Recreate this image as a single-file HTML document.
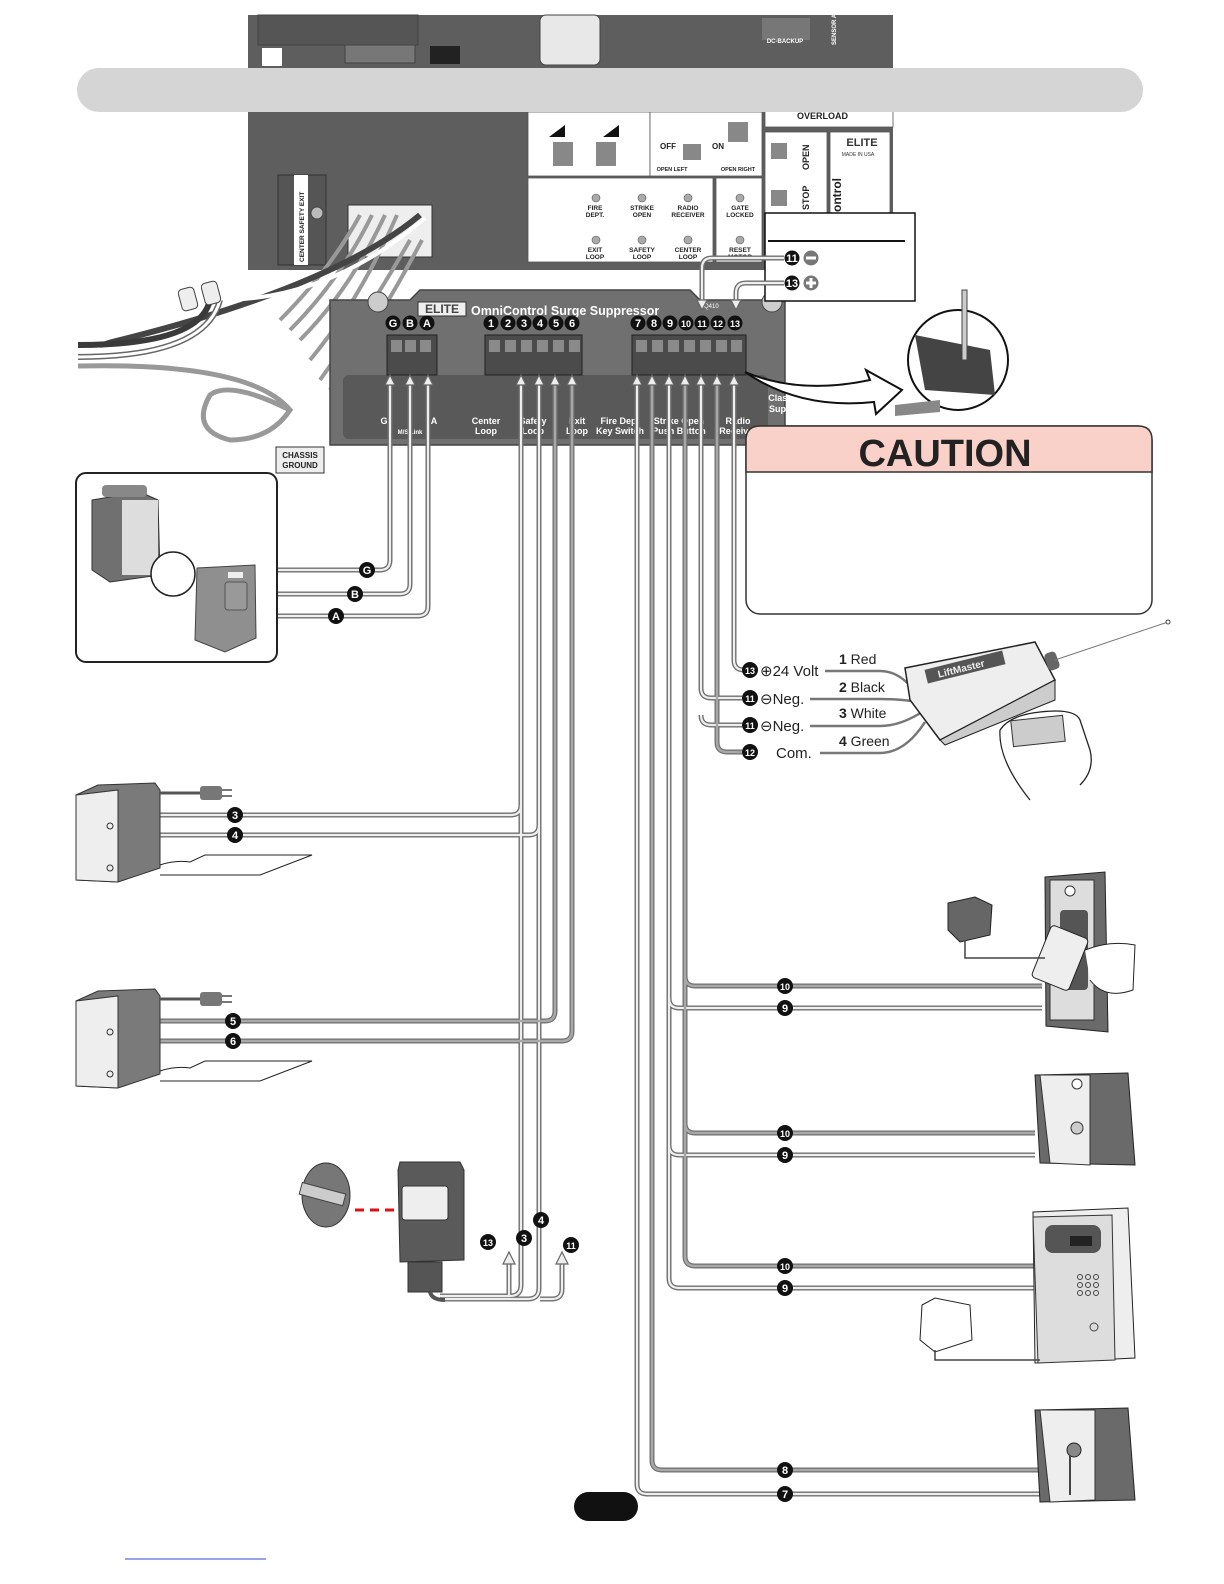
<!DOCTYPE html>
<html><head><meta charset="utf-8"><style>
html,body{margin:0;padding:0;background:#fff;overflow:hidden;width:1224px;height:1584px;}
svg{display:block;font-family:"Liberation Sans",sans-serif;}
.wo{fill:none;stroke:#6e6e6e;stroke-width:5;}
.wi{fill:none;stroke:#eeeeee;stroke-width:2.2;}
.wdi{fill:none;stroke:#a8a8a8;stroke-width:2.5;}
.nb{fill:#111;}
.nt{fill:#fff;font-weight:bold;font-size:11px;text-anchor:middle;}
.lbl{fill:#fff;font-weight:bold;font-size:9px;text-anchor:middle;}
.pl{fill:#fff;stroke:#555;stroke-width:0.8;}
.pt{fill:#222;font-weight:bold;font-size:6.5px;text-anchor:middle;}
.ah{fill:#eee;stroke:#666;stroke-width:1.2;}
</style></head><body>
<svg width="1224" height="1584" viewBox="0 0 1224 1584" xmlns="http://www.w3.org/2000/svg">

<!-- main board -->
<rect x="248" y="15" width="645" height="255" fill="#5e5e5e"/>
<rect x="258" y="15" width="160" height="30" fill="#555" stroke="#444"/>
<rect x="540" y="15" width="60" height="50" rx="6" fill="#e8e8e8" stroke="#444"/>
<rect x="430" y="46" width="30" height="18" fill="#222"/>
<rect x="345" y="45" width="70" height="18" fill="#777" stroke="#444"/>
<rect x="262" y="48" width="20" height="18" fill="#fff"/>
<rect x="762" y="18" width="48" height="22" fill="#777"/>
<text x="785" y="43" font-size="6" font-weight="bold" fill="#fff" text-anchor="middle">DC-BACKUP</text>
<text x="836" y="45" font-size="6" font-weight="bold" fill="#fff" transform="rotate(-90 836 45)">SENSOR ALA</text>
<rect x="528" y="112" width="122" height="64" class="pl"/>
<rect x="650" y="112" width="112" height="64" class="pl"/>
<rect x="528" y="178" width="185" height="84" class="pl"/>
<rect x="716" y="178" width="46" height="84" class="pl"/>
<rect x="765" y="100" width="128" height="27" class="pl"/>
<text x="797" y="119" font-size="9" font-weight="bold" fill="#222">OVERLOAD</text>
<rect x="765" y="132" width="62" height="82" class="pl"/>
<rect x="830" y="132" width="60" height="82" class="pl"/>
<text x="862" y="146" font-size="11" font-weight="bold" fill="#333" text-anchor="middle">ELITE</text>
<text x="858" y="156" font-size="5" fill="#333" text-anchor="middle">MADE IN USA</text>
<text x="809" y="170" font-size="9" font-weight="bold" fill="#222" transform="rotate(-90 809 170)">OPEN</text>
<text x="809" y="210" font-size="9" font-weight="bold" fill="#222" transform="rotate(-90 809 210)">STOP</text>
<text x="841" y="212" font-size="12" font-weight="bold" fill="#222" transform="rotate(-90 841 212)">ontrol</text>
<rect x="771" y="143" width="16" height="16" fill="#888"/><rect x="771" y="190" width="16" height="16" fill="#888"/>
<text x="668" y="149" font-size="8" font-weight="bold" fill="#222" text-anchor="middle">OFF</text>
<text x="718" y="149" font-size="8" font-weight="bold" fill="#222" text-anchor="middle">ON</text>
<rect x="683" y="144" width="18" height="16" fill="#888"/>
<rect x="728" y="122" width="20" height="20" fill="#888"/>
<text x="672" y="171" font-size="5.5" font-weight="bold" fill="#222" text-anchor="middle">OPEN LEFT</text>
<text x="738" y="171" font-size="5.5" font-weight="bold" fill="#222" text-anchor="middle">OPEN RIGHT</text>
<rect x="553" y="142" width="20" height="24" fill="#888"/><rect x="596" y="142" width="20" height="24" fill="#888"/>
<path d="M549,137 L565,125 L565,137Z" fill="#111"/><path d="M603,137 L619,125 L619,137Z" fill="#111"/>
<g class="pt">
<text x="595" y="210">FIRE</text><text x="595" y="217">DEPT.</text>
<text x="642" y="210">STRIKE</text><text x="642" y="217">OPEN</text>
<text x="688" y="210">RADIO</text><text x="688" y="217">RECEIVER</text>
<text x="740" y="210">GATE</text><text x="740" y="217">LOCKED</text>
<text x="595" y="252">EXIT</text><text x="595" y="259">LOOP</text>
<text x="642" y="252">SAFETY</text><text x="642" y="259">LOOP</text>
<text x="688" y="252">CENTER</text><text x="688" y="259">LOOP</text>
<text x="740" y="252">RESET</text><text x="740" y="259">MOTOR</text>
</g>
<g fill="#aaa" stroke="#555" stroke-width="0.6">
<circle cx="596" cy="198" r="4"/><circle cx="642" cy="198" r="4"/><circle cx="688" cy="198" r="4"/><circle cx="740" cy="198" r="4"/>
<circle cx="596" cy="240" r="4"/><circle cx="642" cy="240" r="4"/><circle cx="688" cy="240" r="4"/><circle cx="740" cy="240" r="4"/>
</g>
<rect x="278" y="175" width="48" height="90" fill="#555" stroke="#333"/>
<rect x="294" y="175" width="14" height="90" fill="#fff"/>
<text x="304" y="262" font-size="6.5" font-weight="bold" fill="#222" transform="rotate(-90 304 262)">CENTER  SAFETY  EXIT</text>
<circle cx="317" cy="213" r="6" fill="#bbb" stroke="#444"/>
<rect x="348" y="205" width="84" height="52" fill="#eee" stroke="#333"/>
<g stroke="#999" stroke-width="4" fill="none">
<path d="M360,215 Q330,270 280,320"/><path d="M372,215 Q340,280 290,330"/><path d="M385,215 Q350,290 300,340"/><path d="M397,215 Q360,300 310,360"/><path d="M410,240 Q370,310 320,380"/><path d="M422,240 Q380,320 330,390"/>
</g>
<path d="M420,215 Q330,290 100,345" stroke="#444" stroke-width="6" fill="none"/>
<path d="M425,218 Q330,300 220,300 Q150,320 78,350" stroke="#fff" stroke-width="4" fill="none"/>
<path d="M78,345 Q200,345 210,300" stroke="#3a3a3a" stroke-width="6" fill="none"/>
<path d="M78,357 Q205,357 220,300" stroke="#666" stroke-width="6" fill="none"/><path d="M78,357 Q205,357 220,300" stroke="#fff" stroke-width="3" fill="none"/>
<path d="M78,366 Q250,362 290,410 Q270,440 230,440 Q190,430 210,395 Q230,380 290,410" stroke="#999" stroke-width="5" fill="none"/>
<rect x="180" y="288" width="16" height="22" rx="4" fill="#eee" stroke="#444" transform="rotate(-15 188 299)"/>
<rect x="203" y="282" width="16" height="22" rx="4" fill="#eee" stroke="#444" transform="rotate(-15 211 293)"/>
<rect x="276" y="447" width="48" height="26" fill="#eee" stroke="#333"/>
<text x="300" y="458" font-size="8" font-weight="bold" fill="#222" text-anchor="middle">CHASSIS</text>
<text x="300" y="468" font-size="8" font-weight="bold" fill="#222" text-anchor="middle">GROUND</text>

<rect x="77" y="68" width="1066" height="44" rx="22" fill="#d5d5d5"/>

<!-- surge suppressor -->
<path d="M330,300 L330,445 L785,445 L785,300 L700,300 L690,290 L420,290 L410,300Z" fill="#707070" stroke="#444" stroke-width="1.5"/>
<circle cx="378" cy="302" r="10" fill="#ccc" stroke="#444"/><circle cx="772" cy="302" r="10" fill="#ccc" stroke="#444"/>
<rect x="343" y="375" width="425" height="64" rx="6" fill="#595959"/>
<rect x="418" y="302" width="48" height="14" fill="#eee" stroke="#333"/>
<text x="442" y="313" font-size="12" font-weight="bold" fill="#444" text-anchor="middle">ELITE</text>
<text x="471" y="315" font-size="12.5" font-weight="bold" fill="#fff">OmniControl Surge Suppressor</text>
<text x="704" y="308" font-size="6" fill="#fff">Q410</text>
<rect x="387" y="335" width="50" height="40" fill="#4b4b4b" stroke="#222"/>
<rect x="485" y="335" width="97" height="40" fill="#4b4b4b" stroke="#222"/>
<rect x="632" y="335" width="114" height="40" fill="#4b4b4b" stroke="#222"/>
<g fill="#8a8a8a">
<rect x="391" y="340" width="11" height="12"/><rect x="405" y="340" width="11" height="12"/><rect x="420" y="340" width="11" height="12"/>
<rect x="489" y="340" width="11" height="12"/><rect x="505" y="340" width="11" height="12"/><rect x="521" y="340" width="11" height="12"/><rect x="537" y="340" width="11" height="12"/><rect x="553" y="340" width="11" height="12"/><rect x="569" y="340" width="11" height="12"/>
<rect x="636" y="340" width="11" height="12"/><rect x="652" y="340" width="11" height="12"/><rect x="668" y="340" width="11" height="12"/><rect x="684" y="340" width="11" height="12"/><rect x="700" y="340" width="11" height="12"/><rect x="716" y="340" width="11" height="12"/><rect x="731" y="340" width="11" height="12"/>
</g>
<g class="nb"><circle cx="393" cy="323" r="7.5"/><circle cx="410" cy="323" r="7.5"/><circle cx="427" cy="323" r="7.5"/>
<circle cx="491" cy="323" r="7.5"/><circle cx="508" cy="323" r="7.5"/><circle cx="524" cy="323" r="7.5"/><circle cx="540" cy="323" r="7.5"/><circle cx="556" cy="323" r="7.5"/><circle cx="572" cy="323" r="7.5"/>
<circle cx="638" cy="323" r="7.5"/><circle cx="654" cy="323" r="7.5"/><circle cx="670" cy="323" r="7.5"/><circle cx="686" cy="323" r="7.5"/><circle cx="702" cy="323" r="7.5"/><circle cx="718" cy="323" r="7.5"/><circle cx="735" cy="323" r="7.5"/></g>
<g class="nt" font-size="11">
<text x="393" y="327">G</text><text x="410" y="327">B</text><text x="427" y="327">A</text>
<text x="491" y="327">1</text><text x="508" y="327">2</text><text x="524" y="327">3</text><text x="540" y="327">4</text><text x="556" y="327">5</text><text x="572" y="327">6</text>
<text x="638" y="327">7</text><text x="654" y="327">8</text><text x="670" y="327">9</text><text x="686" y="327" font-size="9">10</text><text x="702" y="327" font-size="9">11</text><text x="718" y="327" font-size="9">12</text><text x="735" y="327" font-size="9">13</text>
</g>
<g class="lbl">
<text x="384" y="424">G</text><text x="434" y="424">A</text><text x="410" y="434" font-size="6">M/S Link</text>
<text x="486" y="424">Center</text><text x="486" y="434">Loop</text>
<text x="533" y="424">Safety</text><text x="533" y="434">Loop</text>
<text x="577" y="424">Exit</text><text x="577" y="434">Loop</text>
<text x="620" y="424">Fire Dept</text><text x="620" y="434">Key Switch</text>
<text x="679" y="424">Strike Open</text><text x="679" y="434">Push Button</text>
<text x="738" y="424">Radio</text><text x="738" y="434">Receiver</text>
<text x="784" y="401">Class 2</text><text x="784" y="412">Supply</text>
</g>
<path d="M745,372 Q800,395 870,380 L866,370 L902,390 L876,414 L874,402 Q800,410 745,372Z" fill="#fff" stroke="#111" stroke-width="2"/>
<circle cx="958" cy="360" r="50" fill="#fff" stroke="#111" stroke-width="2"/>
<path d="M915,335 L990,350 L995,395 L925,390Z" fill="#444"/>
<path d="M895,405 L940,400 L940,412 L895,416Z" fill="#888"/>
<rect x="962" y="290" width="5" height="70" fill="#ccc" stroke="#444"/>

<!-- terminal insert -->
<rect x="765" y="213" width="150" height="88" fill="#fff" stroke="#111" stroke-width="1.5"/>
<line x1="768" y1="241" x2="905" y2="241" stroke="#111" stroke-width="2"/>
<circle cx="792" cy="258" r="7.5" class="nb"/><text x="792" y="262" class="nt" font-size="9">11</text>
<circle cx="811" cy="258" r="7.5" fill="#777"/><rect x="806" y="256.5" width="10" height="3" fill="#fff"/>
<circle cx="792" cy="283" r="7.5" class="nb"/><text x="792" y="287" class="nt" font-size="9">13</text>
<circle cx="811" cy="283" r="7.5" fill="#777"/><rect x="806" y="281.5" width="10" height="3" fill="#fff"/><rect x="809.5" y="278" width="3" height="10" fill="#fff"/>
<path d="M784,258 H712 Q702,258 702,268 V300" class="wo"/><path d="M784,258 H712 Q702,258 702,268 V300" class="wi"/>
<path d="M784,283 H746 Q736,283 736,293 V300" class="wo"/><path d="M784,283 H746 Q736,283 736,293 V300" class="wi"/>
<path d="M697,300 L707,300 L702,310Z" class="ah"/><path d="M731,300 L741,300 L736,310Z" class="ah"/>

<!-- CAUTION -->
<rect x="746" y="426" width="406" height="188" rx="14" fill="#fff" stroke="#333" stroke-width="1.5"/>
<path d="M760,426 H1138 Q1152,426 1152,440 V472 H746 V440 Q746,426 760,426Z" fill="#f9d1c9" stroke="#333" stroke-width="1.5"/>
<text x="945" y="466" font-size="38" font-weight="bold" fill="#222" text-anchor="middle">CAUTION</text>

<!-- WIRES -->
<g class="wo">
<path d="M390,378 V560 Q390,570 380,570 H270"/>
<path d="M410,378 V584 Q410,594 400,594 H270"/>
<path d="M428,378 V606 Q428,616 418,616 H270"/>
<path d="M521,378 V1285 Q521,1296 510,1296 H440"/>
<path d="M521,805 Q521,815 511,815 H160"/>
<path d="M539,378 V1288 Q539,1299 528,1299 H440"/>
<path d="M539,825 Q539,835 529,835 H160"/>
<path d="M509,1296 V1262"/>
<path d="M540,1299 H552 Q562,1299 562,1289 V1262"/>
<path d="M555,378 V1011 Q555,1021 545,1021 H160"/>
<path d="M572,378 V1031 Q572,1041 562,1041 H160"/>
<path d="M637,378 V1484 Q637,1494 647,1494 H1040"/>
<path d="M652,378 V1460 Q652,1470 662,1470 H1040"/>
<path d="M669,378 V1278 Q669,1288 679,1288 H1035"/>
<path d="M669,998 Q669,1008 679,1008 H1042"/>
<path d="M669,1145 Q669,1155 679,1155 H1035"/>
<path d="M685,378 V1256 Q685,1266 695,1266 H1035"/>
<path d="M685,976 Q685,986 695,986 H1042"/>
<path d="M685,1123 Q685,1133 695,1133 H1035"/>
<path d="M701,378 V688 Q701,698 711,698 H742"/>
<path d="M701,715 Q701,725 711,725 H742"/>
<path d="M717,378 V742 Q717,752 727,752 H742"/>
<path d="M734,378 V660 Q734,670 744,670"/>
</g>
<g class="wi">
<path d="M390,378 V560 Q390,570 380,570 H270"/>
<path d="M410,378 V584 Q410,594 400,594 H270"/>
<path d="M428,378 V606 Q428,616 418,616 H270"/>
<path d="M521,378 V1285 Q521,1296 510,1296 H440"/>
<path d="M521,805 Q521,815 511,815 H160"/>
<path d="M539,378 V1288 Q539,1299 528,1299 H440"/>
<path d="M539,825 Q539,835 529,835 H160"/>
<path d="M509,1296 V1262"/>
<path d="M540,1299 H552 Q562,1299 562,1289 V1262"/>
<path d="M637,378 V1484 Q637,1494 647,1494 H1040"/>
<path d="M669,378 V1278 Q669,1288 679,1288 H1035"/>
<path d="M669,998 Q669,1008 679,1008 H1042"/>
<path d="M669,1145 Q669,1155 679,1155 H1035"/>
<path d="M701,378 V688 Q701,698 711,698 H742"/>
<path d="M701,715 Q701,725 711,725 H742"/>
<path d="M734,378 V660 Q734,670 744,670"/>
</g>
<g class="wdi">
<path d="M555,378 V1011 Q555,1021 545,1021 H160"/>
<path d="M572,378 V1031 Q572,1041 562,1041 H160"/>
<path d="M652,378 V1460 Q652,1470 662,1470 H1040"/>
<path d="M685,378 V1256 Q685,1266 695,1266 H1035"/>
<path d="M685,976 Q685,986 695,986 H1042"/>
<path d="M685,1123 Q685,1133 695,1133 H1035"/>
<path d="M717,378 V742 Q717,752 727,752 H742"/>
</g>
<path d="M503,1264 L515,1264 L509,1252Z" class="ah"/>
<path d="M556,1264 L568,1264 L562,1252Z" class="ah"/>
<g class="ah">
<path d="M385,385 L395,385 L390,375Z"/><path d="M405,385 L415,385 L410,375Z"/><path d="M423,385 L433,385 L428,375Z"/>
<path d="M516,385 L526,385 L521,375Z"/><path d="M534,385 L544,385 L539,375Z"/><path d="M550,385 L560,385 L555,375Z"/><path d="M567,385 L577,385 L572,375Z"/>
<path d="M632,385 L642,385 L637,375Z"/><path d="M647,385 L657,385 L652,375Z"/><path d="M664,385 L674,385 L669,375Z"/><path d="M680,385 L690,385 L685,375Z"/><path d="M696,385 L706,385 L701,375Z"/><path d="M712,385 L722,385 L717,375Z"/><path d="M729,385 L739,385 L734,375Z"/>
</g>

<!-- wire badges -->
<g class="nb">
<circle cx="367" cy="570" r="8"/><circle cx="355" cy="594" r="8"/><circle cx="336" cy="616" r="8"/>
<circle cx="235" cy="815" r="8"/><circle cx="235" cy="835" r="8"/><circle cx="233" cy="1021" r="8"/><circle cx="233" cy="1041" r="8"/>
<circle cx="785" cy="986" r="8"/><circle cx="785" cy="1008" r="8"/><circle cx="785" cy="1133" r="8"/><circle cx="785" cy="1155" r="8"/>
<circle cx="785" cy="1266" r="8"/><circle cx="785" cy="1288" r="8"/><circle cx="785" cy="1470" r="8"/><circle cx="785" cy="1494" r="8"/>
<circle cx="488" cy="1242" r="8"/><circle cx="524" cy="1238" r="8"/><circle cx="541" cy="1220" r="8"/><circle cx="571" cy="1245" r="8"/>
<circle cx="750" cy="670" r="8"/><circle cx="750" cy="698" r="8"/><circle cx="750" cy="725" r="8"/><circle cx="750" cy="752" r="8"/>
</g>
<g class="nt" font-size="11">
<text x="367" y="574">G</text><text x="355" y="598">B</text><text x="336" y="620">A</text>
<text x="235" y="819">3</text><text x="235" y="839">4</text><text x="233" y="1025">5</text><text x="233" y="1045">6</text>
<text x="785" y="990" font-size="9">10</text><text x="785" y="1012">9</text><text x="785" y="1137" font-size="9">10</text><text x="785" y="1159">9</text>
<text x="785" y="1270" font-size="9">10</text><text x="785" y="1292">9</text><text x="785" y="1474">8</text><text x="785" y="1498">7</text>
<text x="488" y="1246" font-size="9">13</text><text x="524" y="1242">3</text><text x="541" y="1224">4</text><text x="571" y="1249" font-size="9">11</text>
<text x="750" y="674" font-size="9">13</text><text x="750" y="702" font-size="9">11</text><text x="750" y="729" font-size="9">11</text><text x="750" y="756" font-size="9">12</text>
</g>

<!-- LiftMaster -->
<g font-size="15" fill="#222">
<text x="760" y="676">⊕24 Volt</text>
<text x="760" y="704">⊖Neg.</text>
<text x="760" y="731">⊖Neg.</text>
<text x="776" y="758">Com.</text>
<text x="839" y="664" font-size="14"><tspan font-weight="bold">1</tspan> Red</text>
<text x="839" y="692" font-size="14"><tspan font-weight="bold">2</tspan> Black</text>
<text x="839" y="718" font-size="14"><tspan font-weight="bold">3</tspan> White</text>
<text x="839" y="746" font-size="14"><tspan font-weight="bold">4</tspan> Green</text>
</g>
<g fill="none" stroke="#777" stroke-width="2.5">
<path d="M825,671 H880 Q900,671 915,692"/>
<path d="M810,699 H880 Q900,699 918,702"/>
<path d="M810,726 H880 Q900,726 922,712"/>
<path d="M820,753 H880 Q905,753 925,722"/>
</g>
<path d="M905,668 L1035,642 L1055,680 L940,740 L910,700Z" fill="#eee" stroke="#222" stroke-width="1.5"/>
<path d="M940,740 L1055,680 L1055,700 L945,745Z" fill="#ccc" stroke="#222"/>
<rect x="925" y="660" width="80" height="14" fill="#555" transform="rotate(-14 965 667)"/>
<text x="962" y="672" font-size="10" font-weight="bold" fill="#eee" text-anchor="middle" transform="rotate(-14 962 672)">LiftMaster</text>
<rect x="1046" y="652" width="12" height="18" rx="4" fill="#666" transform="rotate(-20 1052 661)"/>
<line x1="1055" y1="660" x2="1168" y2="622" stroke="#777" stroke-width="1"/>
<circle cx="1168" cy="622" r="2" fill="#fff" stroke="#444"/>
<path d="M1000,730 Q1010,715 1040,712 Q1075,708 1080,720 L1090,750 Q1095,770 1080,785 M1000,730 Q998,760 1030,800" fill="none" stroke="#222" stroke-width="1.3"/>
<rect x="1012" y="718" width="52" height="26" fill="#ccc" stroke="#333" transform="rotate(-6 1038 731)"/>

<!-- Master/Slave box -->
<rect x="76" y="473" width="201" height="189" rx="10" fill="#fff" stroke="#222" stroke-width="2"/>
<path d="M92,500 L140,492 L158,500 L160,575 L110,582 L92,570Z" fill="#707070" stroke="#333"/>
<rect x="122" y="500" width="36" height="75" fill="#ddd"/>
<rect x="102" y="485" width="45" height="12" rx="4" fill="#888"/>
<circle cx="173" cy="574" r="22" fill="#fff" stroke="#222" stroke-width="1.5"/>
<path d="M197,568 L255,565 L256,638 L225,652 L195,640Z" fill="#8f8f8f" stroke="#444"/>
<rect x="225" y="582" width="22" height="28" rx="3" fill="#999" stroke="#555"/>
<rect x="228" y="572" width="15" height="6" fill="#eee"/>

<!-- loop detectors -->
<g id="ld1">
<path d="M76,795 L98,785 L155,783 L160,790 L160,868 L118,882 L76,880Z" fill="#7a7a7a" stroke="#333"/>
<path d="M76,795 L118,790 L118,882 L76,880Z" fill="#eee" stroke="#333"/>
<path d="M160,793 H205" stroke="#555" stroke-width="3"/>
<rect x="200" y="786" width="22" height="14" rx="3" fill="#777"/>
<path d="M222,790 H232 M222,796 H232" stroke="#777" stroke-width="2"/>
<path d="M160,865 Q175,860 190,862 L205,855 H312 L260,875 H160" fill="none" stroke="#222" stroke-width="1"/>
<circle cx="110" cy="826" r="3" fill="none" stroke="#333"/><circle cx="110" cy="868" r="3" fill="none" stroke="#333"/>
</g>
<use href="#ld1" transform="translate(0,206)"/>

<!-- photo eye -->
<ellipse cx="326" cy="1195" rx="24" ry="32" fill="#777" stroke="#333"/>
<rect x="300" y="1188" width="45" height="12" fill="#ccc" stroke="#444" transform="rotate(15 322 1194)"/>
<path d="M355,1210 H400" stroke="#d11" stroke-width="3" stroke-dasharray="9,6"/>
<path d="M398,1170 L400,1162 L460,1162 L464,1170 V1260 L400,1262Z" fill="#5a5a5a" stroke="#333"/>
<rect x="402" y="1186" width="46" height="34" rx="3" fill="#eee" stroke="#333"/>
<rect x="408" y="1262" width="34" height="30" fill="#555" stroke="#333"/>
<path d="M430,1292 Q432,1300 445,1300" stroke="#555" stroke-width="4" fill="none"/>

<!-- right devices -->
<path d="M1045,877 L1105,872 L1108,1032 L1046,1026Z" fill="#6a6a6a" stroke="#222"/>
<rect x="1050" y="880" width="44" height="140" fill="#ddd" stroke="#333"/>
<rect x="1060" y="910" width="28" height="80" rx="4" fill="#555"/>
<circle cx="1070" cy="891" r="5" fill="#fff" stroke="#333"/>
<rect x="1040" y="930" width="40" height="56" rx="4" fill="#eee" stroke="#222" transform="rotate(22 1060 958)"/>
<path d="M1085,950 Q1110,940 1135,945 L1133,990 Q1105,1000 1090,980" fill="#fff" stroke="#222"/>
<path d="M948,903 L975,897 L992,905 L990,935 L960,942 L948,930Z" fill="#666" stroke="#222"/>
<path d="M965,940 V958 H1045" fill="none" stroke="#444" stroke-width="1.5"/>

<path d="M1035,1075 L1128,1073 L1135,1165 L1040,1163Z" fill="#6a6a6a" stroke="#222"/>
<path d="M1040,1075 L1090,1075 L1090,1165 L1050,1163Z" fill="#eee" stroke="#333"/>
<circle cx="1077" cy="1084" r="5" fill="#fff" stroke="#333"/><circle cx="1077" cy="1128" r="6" fill="#ccc" stroke="#333"/>

<path d="M1033,1212 L1128,1208 L1135,1358 L1035,1363Z" fill="#eee" stroke="#222"/>
<path d="M1033,1217 L1112,1215 L1115,1360 L1038,1363Z" fill="#ddd" stroke="#333"/>
<rect x="1045" y="1225" width="56" height="28" rx="8" fill="#555"/>
<rect x="1070" y="1236" width="22" height="10" fill="#222"/>
<g fill="none" stroke="#444"><circle cx="1080" cy="1277" r="2.5"/><circle cx="1088" cy="1277" r="2.5"/><circle cx="1096" cy="1277" r="2.5"/><circle cx="1080" cy="1285" r="2.5"/><circle cx="1088" cy="1285" r="2.5"/><circle cx="1096" cy="1285" r="2.5"/><circle cx="1080" cy="1293" r="2.5"/><circle cx="1088" cy="1293" r="2.5"/><circle cx="1096" cy="1293" r="2.5"/><circle cx="1094" cy="1327" r="4"/></g>
<path d="M922,1305 L935,1298 L970,1305 L972,1340 L935,1352 L920,1340Z" fill="#fff" stroke="#222"/>
<path d="M935,1350 V1360 H1040" fill="none" stroke="#444" stroke-width="1.5"/>

<path d="M1035,1410 L1128,1408 L1135,1500 L1040,1502Z" fill="#6a6a6a" stroke="#222"/>
<path d="M1040,1410 L1095,1410 L1095,1500 L1050,1502Z" fill="#eee" stroke="#333"/>
<circle cx="1074" cy="1450" r="7" fill="#888" stroke="#222"/>
<line x1="1070" y1="1455" x2="1070" y2="1495" stroke="#444" stroke-width="2"/>

<rect x="574" y="1492" width="64" height="29" rx="14.5" fill="#111"/>
<line x1="125" y1="1559" x2="266" y2="1559" stroke="#3344cc" stroke-width="1"/>
</svg>
</body></html>
